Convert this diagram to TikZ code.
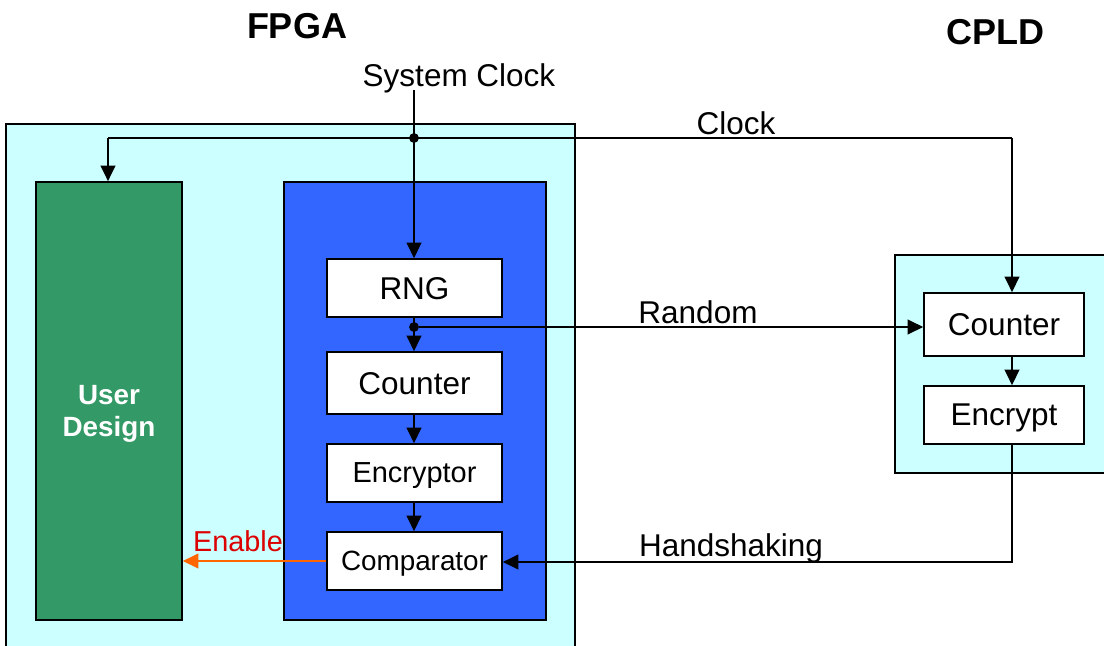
\documentclass[tikz,border=0pt]{standalone}
\usepackage{fontspec}
\setmainfont{Liberation Sans}
\usetikzlibrary{arrows.meta,calc}
\definecolor{cInk}{HTML}{000000}
\definecolor{cChip}{HTML}{CCFFFF}
\definecolor{cUsr}{HTML}{339966}
\definecolor{cSec}{HTML}{3366FF}
\definecolor{cEn}{HTML}{FF6600}
\definecolor{cEnT}{HTML}{DD0000}
\tikzset{
  every node/.style={font=\fontsize{22.4}{26}\selectfont, text=cInk, text depth=0pt},
  chip/.style={draw=cInk, line width=1.2pt, fill=cChip, inner sep=0pt},
  blk/.style={draw=cInk, line width=1.2pt, fill=white, inner sep=0pt, minimum width=4.375cm, minimum height=1.45cm},
  cblk/.style={blk, minimum width=4cm},
  arr/.style={-{Triangle[length=11pt,width=10.5pt]}, line width=1.1pt, draw=cInk},
  dot/.style={circle, fill=cInk, inner sep=0pt, minimum size=7pt},
  ttl/.style={font=\fontsize{25.6}{30}\selectfont\bfseries},
}
\begin{document}
\begin{tikzpicture}[x=0.025cm, y=-0.025cm]
\useasboundingbox (0,0) rectangle (1104,645);
% chips
\path[chip] (6,124) rectangle (575,660);
\path[chip] (895,255) rectangle (1120,473);
\node[ttl] (tfpga) at (297,26) {FPGA};
\node[ttl] (tcpld) at (995,32) {CPLD};
% FPGA side
\node[draw=cInk, line width=1.2pt, fill=cUsr, minimum width=3.65cm, minimum height=10.95cm, inner sep=0pt] (ud) at (109,401) {};
\node[font=\fontsize{19.8}{22.8}\selectfont\bfseries, text=white, align=center, text depth=] (tud) at (109,414) {User\\Design};
\node[draw=cInk, line width=1.2pt, fill=cSec, minimum width=6.55cm, minimum height=10.95cm, inner sep=0pt] (sec) at (415,401) {};
\node[blk] (rng) at (414.5,288) {RNG};
\node[blk, minimum height=1.55cm] (cnt) at (414.5,383) {Counter};
\node[blk, font=\fontsize{20.6}{24}\selectfont] (enc) at (414.5,473) {Encryptor};
\node[blk, font=\fontsize{19.8}{24}\selectfont] (cmp) at (414.5,561) {Comparator};
% CPLD side
\node[cblk, minimum height=1.575cm] (ccnt) at (1004,324.5) {Counter};
\node[cblk] (cenc) at (1004,415) {Encrypt};
% clock tree
\coordinate (sysin) at (414,90);
\node[dot] (clkdot) at (414,138) {};
\coordinate (clkL) at (108,138);
\coordinate (clkR) at (1012,138);
\node (tsys) at (459,75) {System Clock};
\node (tclk) at (736,123) {Clock};
\draw[arr] (sysin) -- (rng.north -| sysin);
\draw[arr] (clkL) -- (clkL |- ud.north);
\draw[line width=1.1pt] (clkL) -- (clkR);
\draw[arr] (clkR) -- (clkR |- ccnt.north);
% random path
\node[dot] (rnddot) at (414,327) {};
\draw[arr] (rng.south -| sysin) -- (cnt.north -| sysin);
\draw[arr] (rnddot) -- (ccnt.west |- rnddot);
\node (trnd) at (698,312) {Random};
\draw[arr] (cnt.south -| sysin) -- (enc.north -| sysin);
\draw[arr] (enc.south -| sysin) -- (cmp.north -| sysin);
\draw[arr] (ccnt.south -| clkR) -- (cenc.north -| clkR);
% handshaking
\coordinate (hsk) at (1012,562);
\draw[arr] (cenc.south -| hsk) -- (hsk) -- (cmp.east |- hsk);
\node (thsk) at (731,545) {Handshaking};
% enable
\draw[-{Triangle[length=11pt,width=10.5pt]}, line width=1.1pt, draw=cEn] (cmp.west) -- (ud.east |- cmp.west);
\node[text=cEnT, font=\fontsize{20.5}{24}\selectfont] (tenb) at (238,541) {Enable};
\end{tikzpicture}
\end{document}
